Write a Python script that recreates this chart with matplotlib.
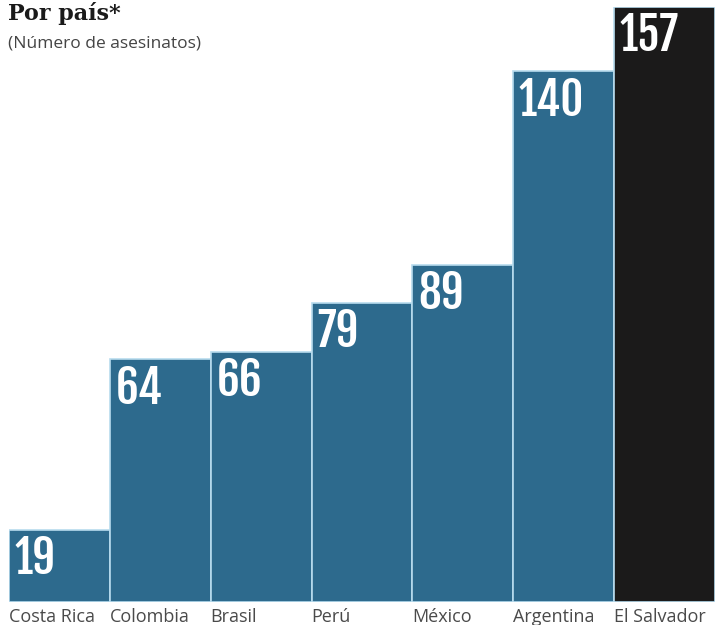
import matplotlib
matplotlib.use("Agg")
import matplotlib.pyplot as plt

countries = ["Costa Rica", "Colombia", "Brasil", "Perú", "México", "Argentina", "El Salvador"]
values = [19, 64, 66, 79, 89, 140, 157]
colors = ["#2d6a8d"] * 6 + ["#1b1a1a"]

fig = plt.figure(figsize=(7.15, 6.25), dpi=100)
ax = fig.add_axes([9 / 715, 23 / 625, 706 / 715, 595 / 625])
ax.set_facecolor("white")

x = list(range(len(countries)))
bars = ax.bar(x, values, width=1.0, color=colors, align="edge",
              edgecolor="#b8dcee", linewidth=1.2)
ax.set_xlim(0, len(countries))
ax.set_ylim(0, 157)
for s in ax.spines.values():
    s.set_visible(False)
ax.set_xticks([])
ax.set_yticks([])

# big condensed numbers inside each bar
for b, v in zip(bars, values):
    ax.annotate(str(v), (b.get_x(), v), xytext=(4, -3), textcoords="offset points",
                ha="left", va="top", color="white", fontsize=32.5,
                family=["Fjalla One", "Oswald", "DejaVu Sans"])

for b, name in zip(bars, countries):
    ax.annotate(name, (b.get_x(), 0), xytext=(0, -14.5), textcoords="offset points",
                ha="left", va="baseline", color="#4a4a4a", fontsize=13,
                family=["Open Sans", "DejaVu Sans"])

fig.text(8 / 715, 1 - 2 / 625, "Por país*", ha="left", va="top", fontsize=16,
         fontweight="bold", family=["DejaVu Serif"], color="#1a1a1a")
fig.text(8 / 715, 1 - 36 / 625, "(Número de asesinatos)", ha="left", va="top", fontsize=12.5,
         family=["Open Sans", "DejaVu Sans"], color="#444444")

fig.savefig("out.png", dpi=100)
